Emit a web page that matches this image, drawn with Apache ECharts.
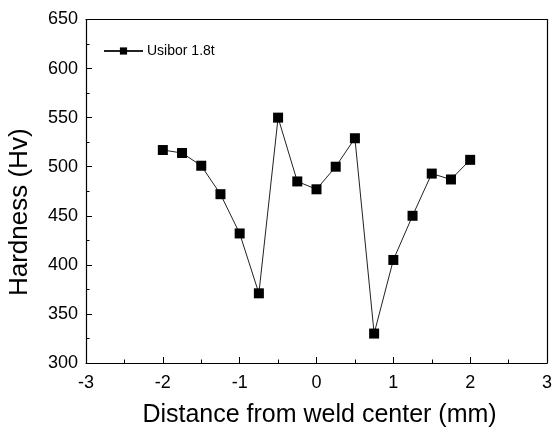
<!DOCTYPE html>
<html>
<head>
<meta charset="utf-8">
<script src="https://cdn.jsdelivr.net/npm/echarts@6/dist/echarts.min.js"></script>
<style>
html,body{margin:0;padding:0;background:#fff;}
#c{width:552px;height:431px;}
</style>
</head>
<body>
<div id="c"></div>
<script>
const distances = [-2, -1.75, -1.5, -1.25, -1, -0.75, -0.5, -0.25, 0, 0.25, 0.5, 0.75, 1, 1.25, 1.5, 1.75, 2];
const hardness = [517, 514, 501, 472, 432, 371, 550, 485, 477, 500, 529, 330, 405, 450, 493, 487, 507];
const seriesName = 'Usibor 1.8t';
const xTitle = 'Distance from weld center (mm)';
const yTitle = 'Hardness (Hv)';

const font = '"Liberation Sans", Arial, Helvetica, sans-serif';
const frameAxis = {
  type: 'value',
  axisLine: {show: true, onZero: false, lineStyle: {color: '#000', width: 1.2}},
  axisTick: {show: false}, axisLabel: {show: false}, splitLine: {show: false}
};
const chart = echarts.init(document.getElementById('c'), null, {renderer: 'canvas'});
chart.setOption({
  animation: false,
  backgroundColor: '#fff',
  textStyle: {fontFamily: font},
  grid: {left: 86, top: 19.5, right: 5, bottom: 68, show: false, containLabel: false, outerBoundsMode: 'none'},
  legend: {
    left: 98, top: 39,
    itemWidth: 39, itemHeight: 9, itemGap: 5,
    textStyle: {fontFamily: font, fontSize: 14, color: '#000', padding: [0, 0, 0, -1]},
    data: [seriesName]
  },
  xAxis: [{
    type: 'value', min: -3, max: 3, interval: 1,
    name: xTitle, nameLocation: 'middle', nameGap: 40,
    nameTextStyle: {fontFamily: font, fontSize: 25, color: '#000', padding: [0, 0, 0, 6]},
    axisLine: {show: true, onZero: false, lineStyle: {color: '#000', width: 1.2}},
    axisTick: {show: true, inside: true, length: 6, lineStyle: {color: '#000'}},
    minorTick: {show: true, splitNumber: 2, length: 3.5, lineStyle: {color: '#000'}},
    axisLabel: {fontFamily: font, fontSize: 18, color: '#000', margin: 11},
    splitLine: {show: false}
  }, Object.assign({min: -3, max: 3, position: 'top'}, frameAxis)],
  yAxis: [{
    type: 'value', min: 300, max: 650, interval: 50,
    name: yTitle, nameLocation: 'middle', nameGap: 53,
    nameTextStyle: {fontFamily: font, fontSize: 26, color: '#000', padding: [0, 42, 0, 0]},
    axisLine: {show: true, onZero: false, lineStyle: {color: '#000', width: 1.2}},
    axisTick: {show: true, inside: true, length: 6, lineStyle: {color: '#000'}},
    minorTick: {show: true, splitNumber: 2, length: 3.5, lineStyle: {color: '#000'}},
    axisLabel: {fontFamily: font, fontSize: 18, color: '#000', margin: 8},
    splitLine: {show: false}
  }, Object.assign({min: 300, max: 650, position: 'right'}, frameAxis)],
  series: [{
    name: seriesName,
    type: 'line',
    data: distances.map((d, i) => [d, hardness[i]]),
    symbol: 'rect',
    symbolSize: 10,
    lineStyle: {color: '#222', width: 1},
    itemStyle: {color: '#000', borderColor: '#000', borderWidth: 0},
    emphasis: {disabled: true}
  }]
});
</script>
</body>
</html>
